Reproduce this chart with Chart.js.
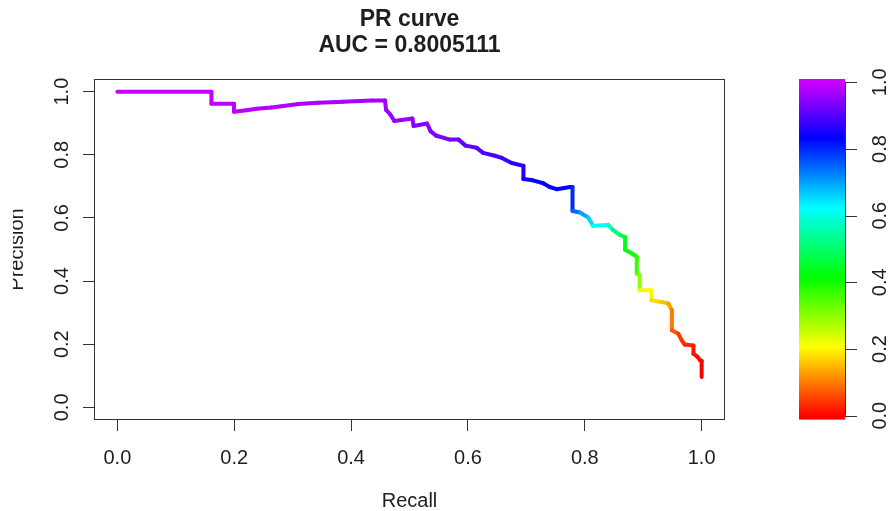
<!DOCTYPE html>
<html><head><meta charset="utf-8">
<script src="https://cdn.jsdelivr.net/npm/chart.js@4/dist/chart.umd.min.js"></script>
<style>html,body{margin:0;padding:0;background:#fff;overflow:hidden}</style>
</head><body>
<canvas id="c" width="894" height="511"></canvas>
<script>
// ---- data ----
const recall = [0, 0.161, 0.161, 0.1996, 0.1996, 0.221, 0.238, 0.264, 0.310, 0.343, 0.386, 0.435, 0.458,
  0.460, 0.467, 0.474, 0.505, 0.507, 0.530, 0.536, 0.545, 0.569, 0.584, 0.596, 0.615, 0.626, 0.646, 0.658,
  0.675, 0.695, 0.695, 0.711, 0.729, 0.740, 0.752, 0.775, 0.779, 0.779, 0.792, 0.806, 0.814, 0.840, 0.848,
  0.860, 0.869, 0.869, 0.880, 0.889, 0.889, 0.894, 0.894, 0.914, 0.914, 0.931, 0.943, 0.949, 0.949, 0.960,
  0.966, 0.971, 0.986, 0.986, 0.993, 0.997, 1.0, 1.0];
const precision = [1.0, 1.0, 0.962, 0.962, 0.936, 0.941, 0.946, 0.950, 0.961, 0.965, 0.968, 0.972, 0.972,
  0.942, 0.928, 0.907, 0.915, 0.891, 0.899, 0.875, 0.861, 0.848, 0.848, 0.829, 0.822, 0.806, 0.797, 0.790,
  0.774, 0.765, 0.723, 0.719, 0.710, 0.698, 0.691, 0.698, 0.698, 0.622, 0.617, 0.601, 0.575, 0.578, 0.562,
  0.546, 0.539, 0.499, 0.488, 0.477, 0.424, 0.419, 0.371, 0.371, 0.339, 0.334, 0.329, 0.308, 0.244, 0.233,
  0.212, 0.199, 0.196, 0.170, 0.160, 0.150, 0.147, 0.096];
const threshold = [1.0, 0.995, 0.993, 0.99, 0.988, 0.986, 0.984, 0.982, 0.978, 0.975, 0.972, 0.968, 0.966,
  0.964, 0.962, 0.96, 0.955, 0.953, 0.948, 0.945, 0.94, 0.93, 0.925, 0.92, 0.912, 0.905, 0.897, 0.89,
  0.88, 0.87, 0.86, 0.85, 0.845, 0.84, 0.835, 0.83, 0.828, 0.8, 0.75, 0.7, 0.66, 0.62, 0.57,
  0.52, 0.48, 0.44, 0.42, 0.4, 0.37, 0.34, 0.3, 0.22, 0.2, 0.18, 0.16, 0.13, 0.1, 0.07,
  0.05, 0.04, 0.03, 0.02, 0.015, 0.01, 0.005, 0.0];
const xTicks = [0, 0.2, 0.4, 0.6, 0.8, 1.0];
const yTicks = [0, 0.2, 0.4, 0.6, 0.8, 1.0];
const cbTicks = [0, 0.2, 0.4, 0.6, 0.8, 1.0];
const titleLines = ['PR curve', 'AUC = 0.8005111'];
const xTitle = 'Recall';
const yTitle = 'Precision';

// ---- styling ----
const FONT = '"Liberation Sans", Arial, sans-serif';
const TXT = '#1e1e1e';
const AX = '#333';
function hueColor(t) { return 'hsl(' + (288 * Math.max(0, Math.min(1, t))) + ',100%,50%)'; }

const points = recall.map((r, i) => ({ x: r, y: precision[i] }));

const decor = {
  id: 'decor',
  afterDraw(chart) {
    const ctx = chart.ctx, a = chart.chartArea;
    const ys = chart.scales.y;
    ctx.save();
    // plot box
    ctx.strokeStyle = AX; ctx.lineWidth = 1;
    ctx.strokeRect(Math.round(a.left) + 0.5, Math.round(a.top) + 0.5,
      Math.round(a.right - a.left) - 1, Math.round(a.bottom - a.top) - 1);
    // titles
    ctx.fillStyle = TXT; ctx.textAlign = 'center'; ctx.textBaseline = 'middle';
    ctx.font = 'bold 23px ' + FONT;
    const cx = (a.left + a.right) / 2;
    ctx.fillText(titleLines[0], cx, 20);
    ctx.fillText(titleLines[1], cx, 46);
    // y tick labels (rotated)
    ctx.font = '20px ' + FONT;
    yTicks.forEach(v => {
      ctx.save();
      ctx.translate(62, ys.getPixelForValue(v));
      ctx.rotate(-Math.PI / 2);
      ctx.fillText(v.toFixed(1), 0, 0);
      ctx.restore();
    });
    // y title (clipped at left like reference)
    ctx.save();
    ctx.beginPath(); ctx.rect(13, 0, 100, 511); ctx.clip();
    ctx.translate(23, ys.getPixelForValue(0.5));
    ctx.rotate(-Math.PI / 2);
    ctx.textBaseline = 'alphabetic';
    ctx.fillText(yTitle, 0, 0);
    ctx.restore();
    // colour bar
    const bx0 = 799, bx1 = 845, v0y = 415.7, v1y = 82.3;
    const cbY = v => v0y + (v1y - v0y) * v;
    const top = 79, bot = 419, N = 170;
    for (let i = 0; i < N; i++) {
      const yA = bot - (bot - top) * i / N, yB = bot - (bot - top) * (i + 1) / N;
      const v = (v0y - (yA + yB) / 2) / (v0y - v1y);
      ctx.fillStyle = hueColor(v);
      ctx.fillRect(bx0, yB, bx1 - bx0, yA - yB + 0.6);
    }
    ctx.strokeStyle = AX; ctx.lineWidth = 1;
    ctx.beginPath();
    ctx.moveTo(bx1 + 0.5, cbY(0)); ctx.lineTo(bx1 + 0.5, cbY(1));
    cbTicks.forEach(v => { const y = Math.round(cbY(v)) + 0.5; ctx.moveTo(bx1, y); ctx.lineTo(bx1 + 12, y); });
    ctx.stroke();
    ctx.fillStyle = TXT; ctx.font = '20px ' + FONT; ctx.textBaseline = 'middle';
    cbTicks.forEach(v => {
      ctx.save();
      ctx.translate(880, cbY(v));
      ctx.rotate(-Math.PI / 2);
      ctx.fillText(v.toFixed(1), 0, 0);
      ctx.restore();
    });
    ctx.restore();
  }
};

new Chart(document.getElementById('c'), {
  type: 'line',
  data: {
    datasets: [{
      data: points,
      borderWidth: 4,
      pointRadius: 0,
      tension: 0,
      fill: false,
      borderCapStyle: 'round',
      borderJoinStyle: 'round',
      borderColor: hueColor(1),
      segment: { borderColor: c => hueColor(threshold[c.p1DataIndex]) }
    }]
  },
  options: {
    responsive: false,
    animation: false,
    devicePixelRatio: 1,
    layout: { padding: { top: 79, right: 169, left: 0, bottom: 0 } },
    plugins: { legend: { display: false }, tooltip: { enabled: false }, title: { display: false } },
    scales: {
      x: {
        type: 'linear', min: -0.04, max: 1.04,
        afterBuildTicks: s => { s.ticks = xTicks.map(v => ({ value: v })); },
        afterFit: s => { s.height = 91; },
        grid: { drawOnChartArea: false, drawTicks: true, tickLength: 11, tickColor: AX, tickWidth: 1 },
        border: { display: false },
        ticks: { color: TXT, font: { family: FONT, size: 20 }, padding: 15, maxRotation: 0,
          callback: v => Number(v).toFixed(1) },
        title: { display: true, text: xTitle, color: TXT, font: { family: FONT, size: 20, lineHeight: 1 }, padding: { top: 0, bottom: 0 } }
      },
      y: {
        type: 'linear', min: -0.04, max: 1.04,
        afterBuildTicks: s => { s.ticks = yTicks.map(v => ({ value: v })); },
        afterFit: s => { s.width = 94; },
        grid: { drawOnChartArea: false, drawTicks: true, tickLength: 11, tickColor: AX, tickWidth: 1 },
        border: { display: false },
        ticks: { display: false }
      }
    }
  },
  plugins: [decor]
});
</script>
</body></html>
